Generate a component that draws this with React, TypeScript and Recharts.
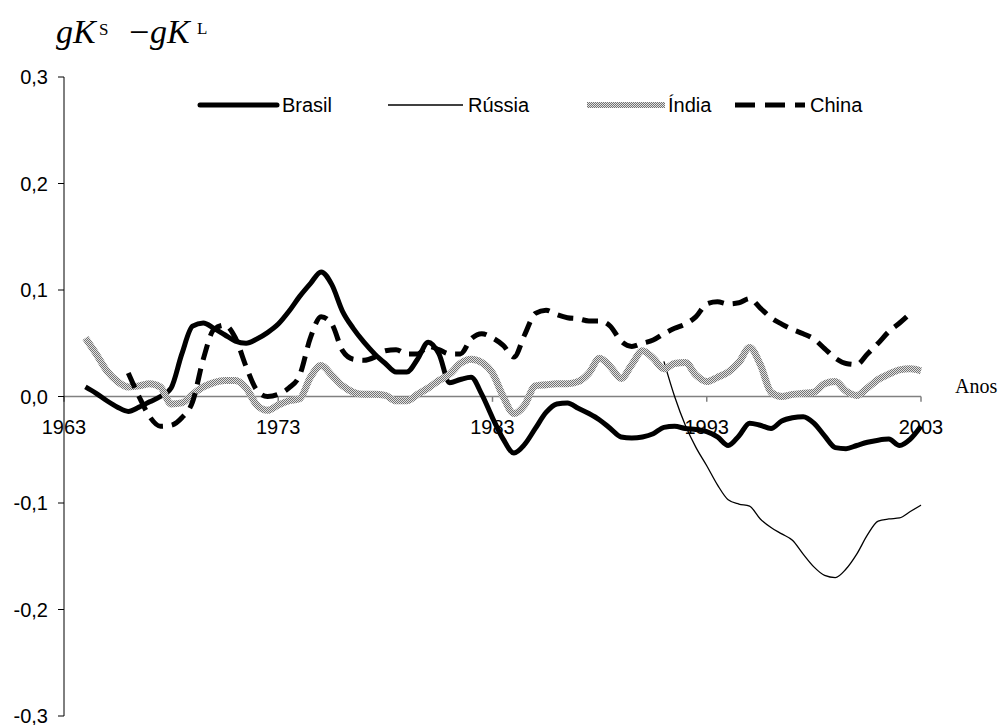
import React from "react";
import { LineChart, Line, XAxis, YAxis, ReferenceLine, Legend } from "recharts";

// half-year sample points
const years = [
  1964, 1964.5, 1965, 1965.5, 1966, 1966.5, 1967, 1967.5, 1968, 1968.5,
  1969, 1969.5, 1970, 1970.5, 1971, 1971.5, 1972, 1972.5, 1973, 1973.5,
  1974, 1974.5, 1975, 1975.5, 1976, 1976.5, 1977, 1977.5, 1978, 1978.5,
  1979, 1979.5, 1980, 1980.5, 1981, 1981.5, 1982, 1982.5, 1983, 1983.5,
  1984, 1984.5, 1985, 1985.5, 1986, 1986.5, 1987, 1987.5, 1988, 1988.5,
  1989, 1989.5, 1990, 1990.5, 1991, 1991.5, 1992, 1992.5, 1993, 1993.5,
  1994, 1994.5, 1995, 1995.5, 1996, 1996.5, 1997, 1997.5, 1998, 1998.5,
  1999, 1999.5, 2000, 2000.5, 2001, 2001.5, 2002, 2002.5, 2003,
];

const brasil = [
  0.009, 0.003, -0.004, -0.01, -0.014, -0.01, -0.005, 0.0, 0.008, 0.04,
  0.066, 0.069, 0.064, 0.058, 0.052, 0.05, 0.054, 0.06, 0.068, 0.08,
  0.094, 0.106, 0.117, 0.105, 0.08, 0.064, 0.051, 0.04, 0.031, 0.023,
  0.023, 0.035, 0.051, 0.04, 0.013, 0.016, 0.018, 0.002, -0.02, -0.04,
  -0.053, -0.045, -0.03, -0.015, -0.007, -0.006, -0.011, -0.016, -0.022, -0.03,
  -0.038, -0.039, -0.038, -0.035, -0.029, -0.028, -0.03, -0.031, -0.033, -0.038,
  -0.046, -0.037, -0.025, -0.027, -0.03, -0.023, -0.02, -0.019, -0.025, -0.037,
  -0.048, -0.049, -0.046, -0.043, -0.041, -0.04, -0.046, -0.04, -0.028,
];

const russia = [
  null, null, null, null, null, null, null, null, null, null,
  null, null, null, null, null, null, null, null, null, null,
  null, null, null, null, null, null, null, null, null, null,
  null, null, null, null, null, null, null, null, null, null,
  null, null, null, null, null, null, null, null, null, null,
  null, null, null, null, 0.033, 0.0, -0.027, -0.048, -0.065, -0.083,
  -0.097, -0.101, -0.103, -0.115, -0.123, -0.129, -0.135, -0.148, -0.16, -0.168,
  -0.17, -0.162, -0.148, -0.13, -0.117, -0.115, -0.114, -0.108, -0.102,
];

const india = [
  0.055, 0.04, 0.024, 0.014, 0.009, 0.01, 0.012, 0.009, -0.007, -0.006,
  0.002, 0.009, 0.013, 0.015, 0.015, 0.008, -0.008, -0.013, -0.008, -0.004,
  -0.002, 0.018, 0.029, 0.02, 0.01, 0.004, 0.002, 0.002, 0.001, -0.004,
  -0.004, 0.002, 0.008, 0.015, 0.021, 0.031, 0.035, 0.032, 0.022, 0.0,
  -0.016, -0.008, 0.01, 0.011, 0.012, 0.012, 0.014, 0.022, 0.036, 0.028,
  0.017, 0.03, 0.043, 0.036, 0.026, 0.031, 0.032, 0.02, 0.014, 0.018,
  0.023, 0.032, 0.046, 0.03, 0.004, 0.0, 0.002, 0.003, 0.004, 0.012,
  0.014, 0.005, 0.001, 0.008, 0.016, 0.021, 0.025, 0.026, 0.024,
];

const china = [
  null, null, null, null, 0.022, 0.0, -0.019, -0.028, -0.027, -0.02,
  -0.005, 0.035, 0.063, 0.067, 0.055, 0.028, 0.006, 0.0, 0.002, 0.008,
  0.02, 0.055, 0.075, 0.068, 0.043, 0.035, 0.034, 0.037, 0.043, 0.044,
  0.04, 0.04, 0.047, 0.044, 0.04, 0.04, 0.054, 0.059, 0.055, 0.048,
  0.037, 0.058, 0.078, 0.081, 0.077, 0.074, 0.073, 0.071, 0.071, 0.066,
  0.052, 0.047, 0.05, 0.053, 0.059, 0.064, 0.068, 0.075, 0.087, 0.089,
  0.087, 0.088, 0.092, 0.083, 0.074, 0.068, 0.063, 0.059, 0.054, 0.045,
  0.036, 0.031, 0.03, 0.04, 0.05, 0.061, 0.069, 0.078, null,
];

const yTicks = [-0.3, -0.2, -0.1, 0, 0.1, 0.2, 0.3];
const xTicks = [1963, 1973, 1983, 1993, 2003];
const seriesNames = ["Brasil", "Rússia", "Índia", "China"];

const rows = years.map((year, i) => ({
  year,
  brasil: brasil[i],
  russia: russia[i],
  india: india[i],
  china: china[i],
}));

const SANS = "'Liberation Sans', Arial, sans-serif";
const SERIF = "'Liberation Serif', 'Times New Roman', serif";

const fmt = (v: number) => v.toFixed(1).replace(".", ",");

function DotPattern({ id }: { id: string }) {
  return (
    <pattern id={id} x="0" y="0" width="2" height="2" patternUnits="userSpaceOnUse">
      <rect x="0" y="0" width="2" height="2" fill="#e2e2e2" />
      <rect x="0" y="0" width="1" height="1" fill="#737373" />
      <rect x="1" y="1" width="1" height="1" fill="#737373" />
    </pattern>
  );
}

// legend swatches drawn by hand so they look like the Excel ones
function LegendRow() {
  const y = 12;
  return (
    <svg width={999} height={24} style={{ display: "block" }}>
      <defs>
        <DotPattern id="legendDots" />
      </defs>
      <line x1={200} y1={y} x2={277} y2={y} stroke="#000" strokeWidth={5} strokeLinecap="round" />
      <text x={282} y={y + 7} fontSize={20} fontFamily={SANS}>{seriesNames[0]}</text>
      <line x1={388} y1={y} x2={463} y2={y} stroke="#000" strokeWidth={1.3} />
      <text x={468} y={y + 7} fontSize={20} fontFamily={SANS}>{seriesNames[1]}</text>
      <rect x={587} y={y - 3} width={78} height={6} fill="url(#legendDots)" />
      <text x={668} y={y + 7} fontSize={20} fontFamily={SANS}>{seriesNames[2]}</text>
      <line x1={735} y1={y} x2={805} y2={y} stroke="#000" strokeWidth={5} strokeDasharray="20 10" />
      <text x={810} y={y + 7} fontSize={20} fontFamily={SANS}>{seriesNames[3]}</text>
    </svg>
  );
}

export default function App() {
  return (
    <div style={{ position: "absolute", left: 0, top: 0, width: 999, height: 725, background: "#fff" }}>
      <LineChart
        width={999}
        height={725}
        data={rows}
        margin={{ top: 77, right: 78, bottom: 9, left: 0 }}
        style={{ fontFamily: SANS }}
      >
        <defs>
          <DotPattern id="indiaDots" />
        </defs>
        <XAxis dataKey="year" type="number" domain={[1963, 2003]} ticks={xTicks} hide />
        <YAxis
          domain={[-0.3, 0.3]}
          ticks={yTicks}
          tickFormatter={fmt}
          width={64}
          tickSize={6}
          tickMargin={10}
          axisLine={{ stroke: "#000" }}
          tickLine={{ stroke: "#000" }}
          tick={{ fill: "#000", fontSize: 20, fontFamily: SANS }}
          interval={0}
        />
        <ReferenceLine y={0} stroke="#808080" strokeWidth={1.5} />
        {xTicks.map((t) => (
          <ReferenceLine
            key={t}
            segment={[
              { x: t, y: 0 },
              { x: t, y: -0.005 },
            ]}
            stroke="#808080"
            strokeWidth={1.5}
            label={{ value: String(t), position: "bottom", offset: 18, fill: "#000", fontSize: 20, fontFamily: SANS }}
          />
        ))}
        <Line
          type="monotone"
          dataKey="brasil"
          name={seriesNames[0]}
          stroke="#000"
          strokeWidth={5}
          strokeLinejoin="round"
          dot={false}
          isAnimationActive={false}
        />
        <Line
          type="monotone"
          dataKey="russia"
          name={seriesNames[1]}
          stroke="#000"
          strokeWidth={1.3}
          dot={false}
          isAnimationActive={false}
        />
        <Line
          type="monotone"
          dataKey="india"
          name={seriesNames[2]}
          stroke="url(#indiaDots)"
          strokeWidth={7}
          dot={false}
          isAnimationActive={false}
        />
        <Line
          type="monotone"
          dataKey="china"
          name={seriesNames[3]}
          stroke="#000"
          strokeWidth={5}
          strokeDasharray="16 9"
          dot={false}
          isAnimationActive={false}
        />
        <Legend
          verticalAlign="middle"
          align="center"
          wrapperStyle={{ position: "absolute", top: 93, left: 0, width: 999 }}
          content={() => <LegendRow />}
        />
      </LineChart>

      {/* title and axis name */}
      <svg width={999} height={725} style={{ position: "absolute", left: 0, top: 0, pointerEvents: "none" }}>
        <g fontFamily={SERIF} fill="#000">
          <text x={56} y={43} fontSize={34} fontStyle="italic">gK</text>
          <text x={99} y={35} fontSize={17}>S</text>
          <text x={129} y={44} fontSize={36}>−</text>
          <text x={150} y={43} fontSize={34} fontStyle="italic">gK</text>
          <text x={197} y={34} fontSize={17}>L</text>
          <text x={955} y={393} fontSize={20}>Anos</text>
        </g>
      </svg>
    </div>
  );
}
